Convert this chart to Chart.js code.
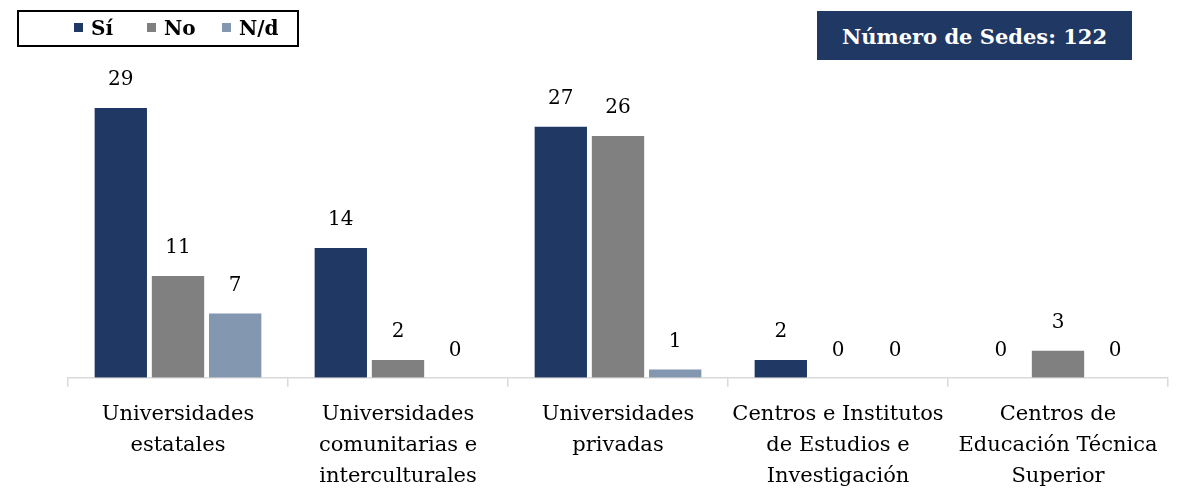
<!DOCTYPE html>
<html>
<head>
<meta charset="utf-8">
<script src="https://cdn.jsdelivr.net/npm/chart.js@4.4.1/dist/chart.umd.min.js"></script>
<style>
  html, body { margin:0; padding:0; background:#fff; }
  #wrap { position:relative; width:1179px; height:493px; overflow:hidden; }
  canvas { position:absolute; left:0; top:0; }
  #legend { position:absolute; left:17px; top:10px; width:278px; height:33px; border:2px solid #000; box-sizing:content-box;
    font-family:"DejaVu Serif", serif; font-weight:bold; font-size:20px; color:#000; }
  #legend .it { position:absolute; top:4px; white-space:nowrap; }
  #legend .sq { display:inline-block; width:9px; height:9px; margin-right:8px; vertical-align:3px; }
  #title { position:absolute; left:817px; top:11px; width:315px; height:49px; background:#203864; color:#fff;
    font-family:"DejaVu Serif", serif; font-weight:bold; font-size:21px; line-height:51px; text-align:center; }
</style>
</head>
<body>
<div id="wrap">
  <canvas id="c" width="1179" height="504"></canvas>
  <div id="legend"></div>
  <div id="title">Número de Sedes: 122</div>
</div>
<script>
const categories = [
  ["Universidades","estatales"],
  ["Universidades","comunitarias e","interculturales"],
  ["Universidades","privadas"],
  ["Centros e Institutos","de Estudios e","Investigación"],
  ["Centros de","Educación Técnica","Superior"]
];
const seriesNames = ["Sí", "No", "N/d"];
const seriesColors = ["#203864", "#808080", "#8497B0"];
const valuesSi = [29, 14, 27, 2, 0];
const valuesNo = [11, 2, 26, 0, 3];
const valuesNd = [7, 0, 1, 0, 0];
const seriesValues = [valuesSi, valuesNo, valuesNd];

// legend (HTML)
const legendEl = document.getElementById('legend');
const legendX = [55, 128, 203];
seriesNames.forEach((n, i) => {
  const d = document.createElement('div');
  d.className = 'it';
  d.style.left = legendX[i] + 'px';
  d.innerHTML = '<span class="sq" style="background:' + seriesColors[i] + '"></span>' + n;
  legendEl.appendChild(d);
});

const FONT = '"DejaVu Serif", serif';

const valueLabels = {
  id: 'valueLabels',
  afterDatasetsDraw(chart) {
    const ctx = chart.ctx;
    ctx.save();
    ctx.font = '20px ' + FONT;
    ctx.fillStyle = '#000';
    ctx.textAlign = 'center';
    ctx.textBaseline = 'middle';
    chart.data.datasets.forEach((ds, di) => {
      chart.getDatasetMeta(di).data.forEach((bar, i) => {
        ctx.fillText(String(ds.data[i]), bar.x, bar.y - 27);
      });
    });
    ctx.restore();
  }
};

new Chart(document.getElementById('c'), {
  type: 'bar',
  data: {
    labels: categories,
    datasets: seriesNames.map((n, i) => ({
      label: n,
      data: seriesValues[i],
      backgroundColor: seriesColors[i],
      borderColor: 'rgba(255,255,255,0.7)',
      borderWidth: 1,
      categoryPercentage: 0.78,
      barPercentage: 0.95
    }))
  },
  options: {
    responsive: false,
    animation: false,
    devicePixelRatio: 1,
    layout: { padding: { left: 68, right: 11, top: 51, bottom: 0 } },
    plugins: { legend: { display: false }, tooltip: { enabled: false } },
    scales: {
      x: {
        grid: { offset: true, drawOnChartArea: false, drawTicks: true, tickLength: 9, color: '#d9d9d9', lineWidth: 1.5 },
        border: { display: true, color: '#d9d9d9', width: 1.5 },
        ticks: { color: '#000', font: { family: FONT, size: 21, lineHeight: 1.48 }, padding: 12, maxRotation: 0, autoSkip: false }
      },
      y: {
        display: false,
        min: 0,
        max: 35
      }
    }
  },
  plugins: [valueLabels]
});
</script>
</body>
</html>
